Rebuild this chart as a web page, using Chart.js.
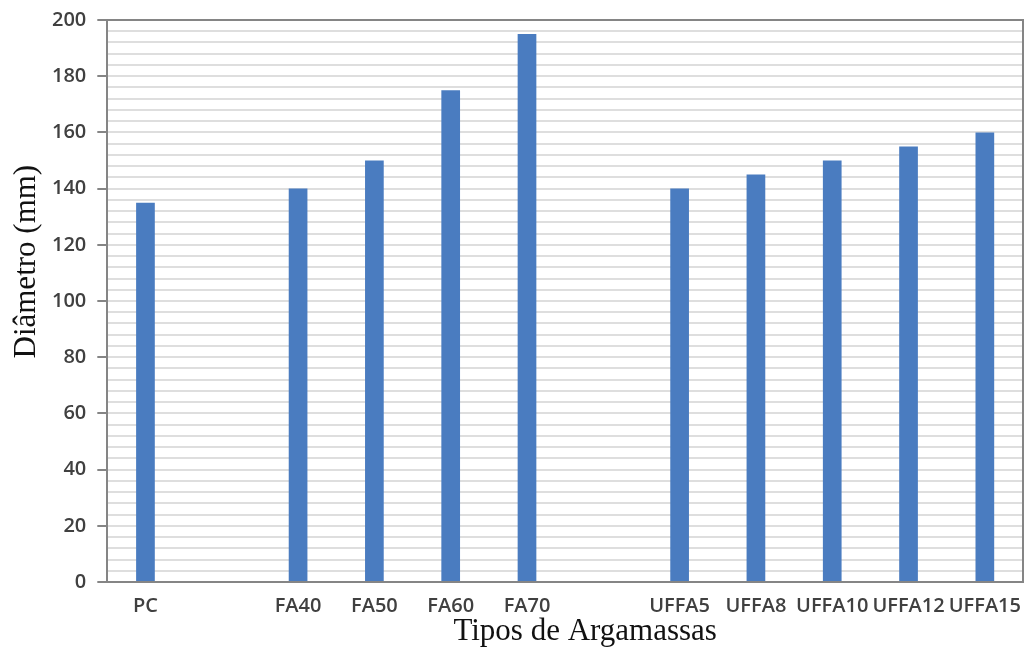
<!DOCTYPE html>
<html>
<head>
<meta charset="utf-8">
<script src="https://cdn.jsdelivr.net/npm/chart.js@4"></script>
<style>
  html, body { margin: 0; padding: 0; background: #fff; }
  #wrap { width: 1026px; height: 656px; }
</style>
</head>
<body>
<div id="wrap"><canvas id="spreadChart"></canvas></div>
<script>
// mortar types; empty slots separate the three groups
const mortarTypes = ['PC', '', 'FA40', 'FA50', 'FA60', 'FA70', '', 'UFFA5', 'UFFA8', 'UFFA10', 'UFFA12', 'UFFA15'];
// spread diameter in mm
const diameters = [135, null, 140, 150, 175, 195, null, 140, 145, 150, 155, 160];
const yMin = 0;
const yMax = 200;
const yLabelStep = 20;
const yGridStep = 4;

const axisTitleFont = '31px "Liberation Serif", "Times New Roman", serif';

// frame around the plot plus the two serif axis titles
const framePlugin = {
    id: 'frame',
    afterDraw(chart) {
        const { ctx, chartArea: a } = chart;
        ctx.save();
        ctx.strokeStyle = '#858585';
        ctx.lineWidth = 2;
        ctx.beginPath();
        ctx.moveTo(a.left, a.top);
        ctx.lineTo(a.right, a.top);
        ctx.lineTo(a.right, a.bottom);
        ctx.stroke();

        ctx.fillStyle = '#111';
        ctx.font = axisTitleFont;
        ctx.textAlign = 'center';
        ctx.textBaseline = 'alphabetic';
        ctx.fillText('Tipos de Argamassas', (a.left + a.right) / 2 + 20, chart.height - 16);

        ctx.translate(35, a.top + (a.bottom - a.top) * 0.43);
        ctx.rotate(-Math.PI / 2);
        ctx.fillText('Diâmetro (mm)', 0, 0);
        ctx.restore();
    }
};

new Chart(document.getElementById('spreadChart'), {
    type: 'bar',
    data: {
        labels: mortarTypes,
        datasets: [{
            data: diameters,
            backgroundColor: '#4a7cc0',
            borderWidth: 0,
            barPercentage: 0.245,
            categoryPercentage: 1
        }]
    },
    options: {
        responsive: true,
        maintainAspectRatio: false,
        animation: false,
        layout: { padding: { left: 41, right: 3, top: 0, bottom: 34 } },
        plugins: {
            legend: { display: false },
            tooltip: { enabled: false }
        },
        scales: {
            x: {
                grid: { display: false },
                border: { color: '#858585', width: 2 },
                ticks: {
                    color: '#404040',
                    font: { family: '"Open Sans", sans-serif', size: 20, weight: '600' },
                    maxRotation: 0,
                    autoSkip: false,
                    padding: 4
                }
            },
            y: {
                min: yMin,
                max: yMax,
                border: { color: '#858585', width: 2 },
                grid: {
                    color: ctx => (ctx.tick && ctx.tick.value === yMax) ? 'rgba(0,0,0,0)' : '#dedede',
                    lineWidth: 2,
                    tickLength: 10,
                    tickColor: ctx => (ctx.tick && ctx.tick.value % yLabelStep === 0) ? '#858585' : 'rgba(0,0,0,0)',
                    tickWidth: 2
                },
                ticks: {
                    stepSize: yGridStep,
                    autoSkip: false,
                    color: '#404040',
                    font: { family: '"Open Sans", sans-serif', size: 20, weight: '600', lineHeight: 0.9 },
                    padding: 11,
                    callback: v => (v % yLabelStep === 0 ? v : '')
                }
            }
        }
    },
    plugins: [framePlugin]
});
</script>
</body>
</html>
